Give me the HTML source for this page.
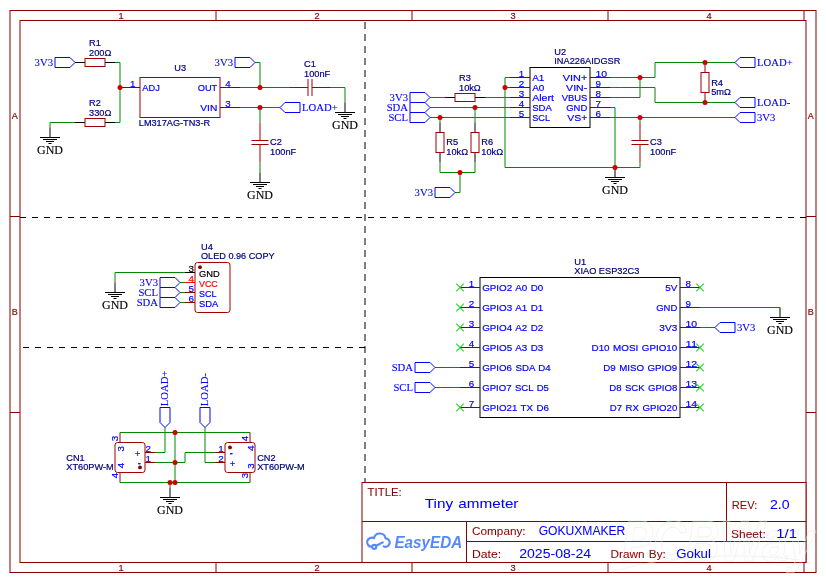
<!DOCTYPE html>
<html><head><meta charset="utf-8"><title>Tiny ammeter</title>
<style>html,body{margin:0;padding:0;background:#fff;overflow:hidden}svg{display:block;will-change:transform;transform:translateZ(0)}text{white-space:pre}</style>
</head><body>
<svg width="826" height="583" viewBox="0 0 826 583">
<rect x="0" y="0" width="826" height="583" fill="#fff"/>
<rect x="10" y="10.5" width="806" height="562" fill="none" stroke="#880000" stroke-width="1"/>
<rect x="20" y="20.5" width="786" height="542" fill="none" stroke="#880000" stroke-width="1"/>
<line x1="216" y1="10.5" x2="216" y2="20.5" stroke="#880000" stroke-width="1" />
<line x1="216" y1="562.5" x2="216" y2="572.5" stroke="#880000" stroke-width="1" />
<line x1="412" y1="10.5" x2="412" y2="20.5" stroke="#880000" stroke-width="1" />
<line x1="412" y1="562.5" x2="412" y2="572.5" stroke="#880000" stroke-width="1" />
<line x1="608" y1="10.5" x2="608" y2="20.5" stroke="#880000" stroke-width="1" />
<line x1="608" y1="562.5" x2="608" y2="572.5" stroke="#880000" stroke-width="1" />
<line x1="804" y1="10.5" x2="804" y2="20.5" stroke="#880000" stroke-width="1" />
<line x1="804" y1="562.5" x2="804" y2="572.5" stroke="#880000" stroke-width="1" />
<line x1="10" y1="216.5" x2="20" y2="216.5" stroke="#880000" stroke-width="1" />
<line x1="806" y1="216.5" x2="816" y2="216.5" stroke="#880000" stroke-width="1" />
<line x1="10" y1="412.5" x2="20" y2="412.5" stroke="#880000" stroke-width="1" />
<line x1="806" y1="412.5" x2="816" y2="412.5" stroke="#880000" stroke-width="1" />
<text x="118.4" y="18.7" fill="#880000" stroke="#880000" stroke-width="0.2" font-size="9.2" font-family='"Liberation Sans", sans-serif' >1</text>
<text x="118.4" y="570.7" fill="#880000" stroke="#880000" stroke-width="0.2" font-size="9.2" font-family='"Liberation Sans", sans-serif' >1</text>
<text x="314.4" y="18.7" fill="#880000" stroke="#880000" stroke-width="0.2" font-size="9.2" font-family='"Liberation Sans", sans-serif' >2</text>
<text x="314.4" y="570.7" fill="#880000" stroke="#880000" stroke-width="0.2" font-size="9.2" font-family='"Liberation Sans", sans-serif' >2</text>
<text x="510.4" y="18.7" fill="#880000" stroke="#880000" stroke-width="0.2" font-size="9.2" font-family='"Liberation Sans", sans-serif' >3</text>
<text x="510.4" y="570.7" fill="#880000" stroke="#880000" stroke-width="0.2" font-size="9.2" font-family='"Liberation Sans", sans-serif' >3</text>
<text x="706.4" y="18.7" fill="#880000" stroke="#880000" stroke-width="0.2" font-size="9.2" font-family='"Liberation Sans", sans-serif' >4</text>
<text x="706.4" y="570.7" fill="#880000" stroke="#880000" stroke-width="0.2" font-size="9.2" font-family='"Liberation Sans", sans-serif' >4</text>
<text x="11.8" y="118.7" fill="#880000" stroke="#880000" stroke-width="0.2" font-size="9" font-family='"Liberation Sans", sans-serif' >A</text>
<text x="807.8" y="118.7" fill="#880000" stroke="#880000" stroke-width="0.2" font-size="9" font-family='"Liberation Sans", sans-serif' >A</text>
<text x="11.8" y="314.7" fill="#880000" stroke="#880000" stroke-width="0.2" font-size="9" font-family='"Liberation Sans", sans-serif' >B</text>
<text x="807.8" y="314.7" fill="#880000" stroke="#880000" stroke-width="0.2" font-size="9" font-family='"Liberation Sans", sans-serif' >B</text>
<line x1="365" y1="22" x2="365" y2="484" stroke="#000000" stroke-width="1" stroke-dasharray="7 5"/>
<line x1="20" y1="217.5" x2="806" y2="217.5" stroke="#000000" stroke-width="1" stroke-dasharray="6 6"/>
<line x1="23" y1="347.5" x2="365" y2="347.5" stroke="#000000" stroke-width="1" stroke-dasharray="6 6"/>
<polyline points="115,62.5 120,62.5 120,122.5 115,122.5" fill="none" stroke="#008800" stroke-width="1" stroke-linejoin="miter"/>
<polyline points="75,122.5 50,122.5 50,127.5" fill="none" stroke="#008800" stroke-width="1" stroke-linejoin="miter"/>
<polyline points="255,62.5 260,62.5 260,87.5" fill="none" stroke="#008800" stroke-width="1" stroke-linejoin="miter"/>
<polyline points="240,87.5 290,87.5" fill="none" stroke="#008800" stroke-width="1" stroke-linejoin="miter"/>
<polyline points="330,87.5 345,87.5 345,102.5" fill="none" stroke="#008800" stroke-width="1" stroke-linejoin="miter"/>
<polyline points="240,107.5 280,107.5" fill="none" stroke="#008800" stroke-width="1" stroke-linejoin="miter"/>
<polyline points="260,107.5 260,122.5" fill="none" stroke="#008800" stroke-width="1" stroke-linejoin="miter"/>
<polyline points="260,162.5 260,172.5" fill="none" stroke="#008800" stroke-width="1" stroke-linejoin="miter"/>
<polygon points="55,57.5 70,57.5 75,62.5 70,67.5 55,67.5" fill="none" stroke="#0000FF" stroke-width="1" />
<text x="53" y="65.7" fill="#0000FF" stroke="#0000FF" stroke-width="0.12" font-size="11.31" font-family='"Liberation Serif", serif' text-anchor="end" textLength="18.38" lengthAdjust="spacingAndGlyphs" >3V3</text>
<line x1="75" y1="62.5" x2="85" y2="62.5" stroke="#000000" stroke-width="1" />
<line x1="105" y1="62.5" x2="115" y2="62.5" stroke="#000000" stroke-width="1" />
<rect x="85" y="58.5" width="20" height="8" fill="none" stroke="#A00000" stroke-width="1"/>
<text x="89" y="45.7" fill="#000080" stroke="#000080" stroke-width="0.2" font-size="9.23" font-family='"Liberation Sans", sans-serif' >R1</text>
<text x="89" y="55.7" fill="#000080" stroke="#000080" stroke-width="0.2" font-size="9.23" font-family='"Liberation Sans", sans-serif' >200Ω</text>
<line x1="75" y1="122.5" x2="85" y2="122.5" stroke="#000000" stroke-width="1" />
<line x1="105" y1="122.5" x2="115" y2="122.5" stroke="#000000" stroke-width="1" />
<rect x="85" y="118.5" width="20" height="8" fill="none" stroke="#A00000" stroke-width="1"/>
<text x="89" y="105.7" fill="#000080" stroke="#000080" stroke-width="0.2" font-size="9.23" font-family='"Liberation Sans", sans-serif' >R2</text>
<text x="89" y="115.7" fill="#000080" stroke="#000080" stroke-width="0.2" font-size="9.23" font-family='"Liberation Sans", sans-serif' >330Ω</text>
<line x1="50" y1="127.5" x2="50" y2="137.5" stroke="#000000" stroke-width="1" />
<line x1="40" y1="137.5" x2="60" y2="137.5" stroke="#000000" stroke-width="1" />
<line x1="43" y1="139.5" x2="57" y2="139.5" stroke="#000000" stroke-width="1" />
<line x1="46" y1="141.5" x2="54" y2="141.5" stroke="#000000" stroke-width="1" />
<line x1="48.5" y1="143.5" x2="51.5" y2="143.5" stroke="#000000" stroke-width="1" />
<text x="50" y="153.8" fill="#000000" stroke="#000000" stroke-width="0.15" font-size="13" font-family='"Liberation Serif", serif' text-anchor="middle" textLength="26.00" lengthAdjust="spacingAndGlyphs" >GND</text>
<rect x="140" y="77.5" width="80" height="40" fill="none" stroke="#A00000" stroke-width="1"/>
<line x1="120" y1="87.5" x2="140" y2="87.5" stroke="#880000" stroke-width="1" />
<line x1="220" y1="87.5" x2="240" y2="87.5" stroke="#880000" stroke-width="1" />
<line x1="220" y1="107.5" x2="240" y2="107.5" stroke="#880000" stroke-width="1" />
<text x="130" y="86.7" fill="#0000FF" stroke="#0000FF" stroke-width="0.2" font-size="9.81" font-family='"Liberation Sans", sans-serif' >1</text>
<text x="225.3" y="86.7" fill="#0000FF" stroke="#0000FF" stroke-width="0.2" font-size="9.81" font-family='"Liberation Sans", sans-serif' >4</text>
<text x="225.3" y="106.7" fill="#0000FF" stroke="#0000FF" stroke-width="0.2" font-size="9.81" font-family='"Liberation Sans", sans-serif' >3</text>
<text x="142.3" y="90.6" fill="#0000FF" stroke="#0000FF" stroke-width="0.2" font-size="9.81" font-family='"Liberation Sans", sans-serif' textLength="17.53" lengthAdjust="spacingAndGlyphs"  word-spacing="0.8">ADJ</text>
<text x="217.3" y="90.7" fill="#0000FF" stroke="#0000FF" stroke-width="0.2" font-size="9.81" font-family='"Liberation Sans", sans-serif' text-anchor="end" textLength="19.60" lengthAdjust="spacingAndGlyphs"  word-spacing="0.8">OUT</text>
<text x="217.3" y="110.7" fill="#0000FF" stroke="#0000FF" stroke-width="0.2" font-size="9.81" font-family='"Liberation Sans", sans-serif' text-anchor="end" textLength="17.01" lengthAdjust="spacingAndGlyphs"  word-spacing="0.8">VIN</text>
<text x="174.3" y="70.7" fill="#000080" stroke="#000080" stroke-width="0.2" font-size="9.23" font-family='"Liberation Sans", sans-serif' >U3</text>
<text x="138.8" y="125.5" fill="#000080" stroke="#000080" stroke-width="0.2" font-size="9" font-family='"Liberation Sans", sans-serif' textLength="71.30" lengthAdjust="spacingAndGlyphs" >LM317AG-TN3-R</text>
<polygon points="235,57.5 250,57.5 255,62.5 250,67.5 235,67.5" fill="none" stroke="#0000FF" stroke-width="1" />
<text x="233" y="65.7" fill="#0000FF" stroke="#0000FF" stroke-width="0.12" font-size="11.31" font-family='"Liberation Serif", serif' text-anchor="end" textLength="18.38" lengthAdjust="spacingAndGlyphs" >3V3</text>
<line x1="290" y1="87.5" x2="308" y2="87.5" stroke="#A00000" stroke-width="1" />
<line x1="312" y1="87.5" x2="330" y2="87.5" stroke="#A00000" stroke-width="1" />
<line x1="308" y1="79.0" x2="308" y2="96.0" stroke="#A00000" stroke-width="1" />
<line x1="312" y1="79.0" x2="312" y2="96.0" stroke="#A00000" stroke-width="1" />
<text x="304" y="66.7" fill="#000080" stroke="#000080" stroke-width="0.2" font-size="9.23" font-family='"Liberation Sans", sans-serif' >C1</text>
<text x="304" y="76.9" fill="#000080" stroke="#000080" stroke-width="0.2" font-size="9.23" font-family='"Liberation Sans", sans-serif' >100nF</text>
<line x1="345" y1="102.5" x2="345" y2="112.5" stroke="#000000" stroke-width="1" />
<line x1="335" y1="112.5" x2="355" y2="112.5" stroke="#000000" stroke-width="1" />
<line x1="338" y1="114.5" x2="352" y2="114.5" stroke="#000000" stroke-width="1" />
<line x1="341" y1="116.5" x2="349" y2="116.5" stroke="#000000" stroke-width="1" />
<line x1="343.5" y1="118.5" x2="346.5" y2="118.5" stroke="#000000" stroke-width="1" />
<text x="345" y="128.8" fill="#000000" stroke="#000000" stroke-width="0.15" font-size="13" font-family='"Liberation Serif", serif' text-anchor="middle" textLength="26.00" lengthAdjust="spacingAndGlyphs" >GND</text>
<polygon points="300,102.5 285,102.5 280,107.5 285,112.5 300,112.5" fill="none" stroke="#0000FF" stroke-width="1" />
<text x="302" y="110.7" fill="#0000FF" stroke="#0000FF" stroke-width="0.12" font-size="11.31" font-family='"Liberation Serif", serif' textLength="35.65" lengthAdjust="spacingAndGlyphs" >LOAD+</text>
<line x1="260" y1="122.5" x2="260" y2="140.5" stroke="#A00000" stroke-width="1" />
<line x1="260" y1="144.5" x2="260" y2="162.5" stroke="#A00000" stroke-width="1" />
<line x1="251.5" y1="140.5" x2="268.5" y2="140.5" stroke="#A00000" stroke-width="1" />
<line x1="251.5" y1="144.5" x2="268.5" y2="144.5" stroke="#A00000" stroke-width="1" />
<text x="270" y="145.4" fill="#000080" stroke="#000080" stroke-width="0.2" font-size="9.23" font-family='"Liberation Sans", sans-serif' >C2</text>
<text x="270" y="154.6" fill="#000080" stroke="#000080" stroke-width="0.2" font-size="9.23" font-family='"Liberation Sans", sans-serif' >100nF</text>
<line x1="260" y1="172.5" x2="260" y2="182.5" stroke="#000000" stroke-width="1" />
<line x1="250" y1="182.5" x2="270" y2="182.5" stroke="#000000" stroke-width="1" />
<line x1="253" y1="184.5" x2="267" y2="184.5" stroke="#000000" stroke-width="1" />
<line x1="256" y1="186.5" x2="264" y2="186.5" stroke="#000000" stroke-width="1" />
<line x1="258.5" y1="188.5" x2="261.5" y2="188.5" stroke="#000000" stroke-width="1" />
<text x="260" y="198.8" fill="#000000" stroke="#000000" stroke-width="0.15" font-size="13" font-family='"Liberation Serif", serif' text-anchor="middle" textLength="26.00" lengthAdjust="spacingAndGlyphs" >GND</text>
<circle cx="120" cy="87.5" r="2.5" fill="#CC0000"/>
<circle cx="260" cy="87.5" r="2.5" fill="#CC0000"/>
<circle cx="260" cy="107.5" r="2.5" fill="#CC0000"/>
<polyline points="430,97.5 445,97.5" fill="none" stroke="#008800" stroke-width="1" stroke-linejoin="miter"/>
<polyline points="485,97.5 510,97.5" fill="none" stroke="#008800" stroke-width="1" stroke-linejoin="miter"/>
<polyline points="430,107.5 510,107.5" fill="none" stroke="#008800" stroke-width="1" stroke-linejoin="miter"/>
<polyline points="430,117.5 510,117.5" fill="none" stroke="#008800" stroke-width="1" stroke-linejoin="miter"/>
<polyline points="440,117.5 440,122.5" fill="none" stroke="#008800" stroke-width="1" stroke-linejoin="miter"/>
<polyline points="475,107.5 475,122.5" fill="none" stroke="#008800" stroke-width="1" stroke-linejoin="miter"/>
<polyline points="440,162.5 440,172.5 475,172.5 475,162.5" fill="none" stroke="#008800" stroke-width="1" stroke-linejoin="miter"/>
<polyline points="460,172.5 460,192.5 455,192.5" fill="none" stroke="#008800" stroke-width="1" stroke-linejoin="miter"/>
<polyline points="510,77.5 505,77.5 505,167.5 640,167.5 640,162.5" fill="none" stroke="#008800" stroke-width="1" stroke-linejoin="miter"/>
<polyline points="505,87.5 510,87.5" fill="none" stroke="#008800" stroke-width="1" stroke-linejoin="miter"/>
<polyline points="610,77.5 655,77.5 655,62.5 735,62.5" fill="none" stroke="#008800" stroke-width="1" stroke-linejoin="miter"/>
<polyline points="610,87.5 655,87.5 655,102.5 735,102.5" fill="none" stroke="#008800" stroke-width="1" stroke-linejoin="miter"/>
<polyline points="610,97.5 640,97.5 640,77.5" fill="none" stroke="#008800" stroke-width="1" stroke-linejoin="miter"/>
<polyline points="610,107.5 615,107.5 615,167.5" fill="none" stroke="#008800" stroke-width="1" stroke-linejoin="miter"/>
<polyline points="610,117.5 735,117.5" fill="none" stroke="#008800" stroke-width="1" stroke-linejoin="miter"/>
<polyline points="640,117.5 640,122.5" fill="none" stroke="#008800" stroke-width="1" stroke-linejoin="miter"/>
<polygon points="410,92.5 425,92.5 430,97.5 425,102.5 410,102.5" fill="none" stroke="#0000FF" stroke-width="1" />
<text x="408" y="100.7" fill="#0000FF" stroke="#0000FF" stroke-width="0.12" font-size="11.31" font-family='"Liberation Serif", serif' text-anchor="end" textLength="18.38" lengthAdjust="spacingAndGlyphs" >3V3</text>
<polygon points="410,102.5 425,102.5 430,107.5 425,112.5 410,112.5" fill="none" stroke="#0000FF" stroke-width="1" />
<text x="408" y="110.7" fill="#0000FF" stroke="#0000FF" stroke-width="0.12" font-size="11.31" font-family='"Liberation Serif", serif' text-anchor="end" textLength="21.35" lengthAdjust="spacingAndGlyphs" >SDA</text>
<polygon points="410,112.5 425,112.5 430,117.5 425,122.5 410,122.5" fill="none" stroke="#0000FF" stroke-width="1" />
<text x="408" y="120.7" fill="#0000FF" stroke="#0000FF" stroke-width="0.12" font-size="11.31" font-family='"Liberation Serif", serif' text-anchor="end" textLength="19.57" lengthAdjust="spacingAndGlyphs" >SCL</text>
<line x1="445" y1="97.5" x2="455" y2="97.5" stroke="#000000" stroke-width="1" />
<line x1="475" y1="97.5" x2="485" y2="97.5" stroke="#000000" stroke-width="1" />
<rect x="455" y="93.5" width="20" height="8" fill="none" stroke="#A00000" stroke-width="1"/>
<text x="459" y="80.7" fill="#000080" stroke="#000080" stroke-width="0.2" font-size="9.23" font-family='"Liberation Sans", sans-serif' >R3</text>
<text x="459" y="90.7" fill="#000080" stroke="#000080" stroke-width="0.2" font-size="9.23" font-family='"Liberation Sans", sans-serif' >10kΩ</text>
<line x1="440" y1="122.5" x2="440" y2="132.5" stroke="#000000" stroke-width="1" />
<line x1="440" y1="152.5" x2="440" y2="162.5" stroke="#000000" stroke-width="1" />
<rect x="436" y="132.5" width="8" height="20" fill="none" stroke="#A00000" stroke-width="1"/>
<text x="446.3" y="145.4" fill="#000080" stroke="#000080" stroke-width="0.2" font-size="9.23" font-family='"Liberation Sans", sans-serif' >R5</text>
<text x="446.3" y="154.5" fill="#000080" stroke="#000080" stroke-width="0.2" font-size="9.23" font-family='"Liberation Sans", sans-serif' >10kΩ</text>
<line x1="475" y1="122.5" x2="475" y2="132.5" stroke="#000000" stroke-width="1" />
<line x1="475" y1="152.5" x2="475" y2="162.5" stroke="#000000" stroke-width="1" />
<rect x="471" y="132.5" width="8" height="20" fill="none" stroke="#A00000" stroke-width="1"/>
<text x="481.3" y="145.4" fill="#000080" stroke="#000080" stroke-width="0.2" font-size="9.23" font-family='"Liberation Sans", sans-serif' >R6</text>
<text x="481.3" y="154.5" fill="#000080" stroke="#000080" stroke-width="0.2" font-size="9.23" font-family='"Liberation Sans", sans-serif' >10kΩ</text>
<polygon points="435,187.5 450,187.5 455,192.5 450,197.5 435,197.5" fill="none" stroke="#0000FF" stroke-width="1" />
<text x="433" y="195.7" fill="#0000FF" stroke="#0000FF" stroke-width="0.12" font-size="11.31" font-family='"Liberation Serif", serif' text-anchor="end" textLength="18.38" lengthAdjust="spacingAndGlyphs" >3V3</text>
<rect x="530" y="67.5" width="60" height="60" fill="none" stroke="#000000" stroke-width="1"/>
<line x1="510" y1="77.5" x2="530" y2="77.5" stroke="#880000" stroke-width="1" />
<line x1="590" y1="77.5" x2="610" y2="77.5" stroke="#880000" stroke-width="1" />
<text x="524.3" y="76.7" fill="#0000FF" stroke="#0000FF" stroke-width="0.2" font-size="9.81" font-family='"Liberation Sans", sans-serif' text-anchor="end" >1</text>
<text x="595.5" y="76.7" fill="#0000FF" stroke="#0000FF" stroke-width="0.2" font-size="9.81" font-family='"Liberation Sans", sans-serif' textLength="11.68" lengthAdjust="spacingAndGlyphs"  word-spacing="0.8">10</text>
<text x="532.2" y="80.5" fill="#0000FF" stroke="#0000FF" stroke-width="0.2" font-size="9.81" font-family='"Liberation Sans", sans-serif' textLength="12.12" lengthAdjust="spacingAndGlyphs"  word-spacing="0.8">A1</text>
<text x="587.3" y="80.5" fill="#0000FF" stroke="#0000FF" stroke-width="0.2" font-size="9.81" font-family='"Liberation Sans", sans-serif' text-anchor="end" textLength="24.52" lengthAdjust="spacingAndGlyphs"  word-spacing="0.8">VIN+</text>
<line x1="510" y1="87.5" x2="530" y2="87.5" stroke="#880000" stroke-width="1" />
<line x1="590" y1="87.5" x2="610" y2="87.5" stroke="#880000" stroke-width="1" />
<text x="524.3" y="86.7" fill="#0000FF" stroke="#0000FF" stroke-width="0.2" font-size="9.81" font-family='"Liberation Sans", sans-serif' text-anchor="end" >2</text>
<text x="595.5" y="86.7" fill="#0000FF" stroke="#0000FF" stroke-width="0.2" font-size="9.81" font-family='"Liberation Sans", sans-serif' >9</text>
<text x="532.2" y="90.5" fill="#0000FF" stroke="#0000FF" stroke-width="0.2" font-size="9.81" font-family='"Liberation Sans", sans-serif' textLength="12.12" lengthAdjust="spacingAndGlyphs"  word-spacing="0.8">A0</text>
<text x="587.3" y="90.5" fill="#0000FF" stroke="#0000FF" stroke-width="0.2" font-size="9.81" font-family='"Liberation Sans", sans-serif' text-anchor="end" textLength="21.18" lengthAdjust="spacingAndGlyphs"  word-spacing="0.8">VIN-</text>
<line x1="510" y1="97.5" x2="530" y2="97.5" stroke="#880000" stroke-width="1" />
<line x1="590" y1="97.5" x2="610" y2="97.5" stroke="#880000" stroke-width="1" />
<text x="524.3" y="96.7" fill="#0000FF" stroke="#0000FF" stroke-width="0.2" font-size="9.81" font-family='"Liberation Sans", sans-serif' text-anchor="end" >3</text>
<text x="595.5" y="96.7" fill="#0000FF" stroke="#0000FF" stroke-width="0.2" font-size="9.81" font-family='"Liberation Sans", sans-serif' >8</text>
<text x="532.2" y="100.5" fill="#0000FF" stroke="#0000FF" stroke-width="0.2" font-size="9.81" font-family='"Liberation Sans", sans-serif' textLength="21.80" lengthAdjust="spacingAndGlyphs"  word-spacing="0.8">Alert</text>
<text x="587.3" y="100.5" fill="#0000FF" stroke="#0000FF" stroke-width="0.2" font-size="9.81" font-family='"Liberation Sans", sans-serif' text-anchor="end" textLength="25.58" lengthAdjust="spacingAndGlyphs"  word-spacing="0.8">VBUS</text>
<line x1="510" y1="107.5" x2="530" y2="107.5" stroke="#880000" stroke-width="1" />
<line x1="590" y1="107.5" x2="610" y2="107.5" stroke="#880000" stroke-width="1" />
<text x="524.3" y="106.7" fill="#0000FF" stroke="#0000FF" stroke-width="0.2" font-size="9.81" font-family='"Liberation Sans", sans-serif' text-anchor="end" >4</text>
<text x="595.5" y="106.7" fill="#0000FF" stroke="#0000FF" stroke-width="0.2" font-size="9.81" font-family='"Liberation Sans", sans-serif' >7</text>
<text x="532.2" y="110.5" fill="#0000FF" stroke="#0000FF" stroke-width="0.2" font-size="9.81" font-family='"Liberation Sans", sans-serif' textLength="19.64" lengthAdjust="spacingAndGlyphs"  word-spacing="0.8">SDA</text>
<text x="587.3" y="110.5" fill="#0000FF" stroke="#0000FF" stroke-width="0.2" font-size="9.81" font-family='"Liberation Sans", sans-serif' text-anchor="end" textLength="21.06" lengthAdjust="spacingAndGlyphs"  word-spacing="0.8">GND</text>
<line x1="510" y1="117.5" x2="530" y2="117.5" stroke="#880000" stroke-width="1" />
<line x1="590" y1="117.5" x2="610" y2="117.5" stroke="#880000" stroke-width="1" />
<text x="524.3" y="116.7" fill="#0000FF" stroke="#0000FF" stroke-width="0.2" font-size="9.81" font-family='"Liberation Sans", sans-serif' text-anchor="end" >5</text>
<text x="595.5" y="116.7" fill="#0000FF" stroke="#0000FF" stroke-width="0.2" font-size="9.81" font-family='"Liberation Sans", sans-serif' >6</text>
<text x="532.2" y="120.5" fill="#0000FF" stroke="#0000FF" stroke-width="0.2" font-size="9.81" font-family='"Liberation Sans", sans-serif' textLength="17.80" lengthAdjust="spacingAndGlyphs"  word-spacing="0.8">SCL</text>
<text x="587.3" y="120.5" fill="#0000FF" stroke="#0000FF" stroke-width="0.2" font-size="9.81" font-family='"Liberation Sans", sans-serif' text-anchor="end" textLength="20.07" lengthAdjust="spacingAndGlyphs"  word-spacing="0.8">VS+</text>
<text x="554.3" y="54.7" fill="#000080" stroke="#000080" stroke-width="0.2" font-size="9.23" font-family='"Liberation Sans", sans-serif' >U2</text>
<text x="554.3" y="63.7" fill="#000080" stroke="#000080" stroke-width="0.2" font-size="9.23" font-family='"Liberation Sans", sans-serif' >INA226AIDGSR</text>
<line x1="705" y1="62.5" x2="705" y2="72.5" stroke="#A00000" stroke-width="1" />
<line x1="705" y1="92.5" x2="705" y2="102.5" stroke="#A00000" stroke-width="1" />
<rect x="701" y="72.5" width="8" height="20" fill="none" stroke="#A00000" stroke-width="1"/>
<text x="711.2" y="85.7" fill="#000080" stroke="#000080" stroke-width="0.2" font-size="9.23" font-family='"Liberation Sans", sans-serif' >R4</text>
<text x="711.2" y="94.7" fill="#000080" stroke="#000080" stroke-width="0.2" font-size="9.23" font-family='"Liberation Sans", sans-serif' >5mΩ</text>
<polygon points="755,57.5 740,57.5 735,62.5 740,67.5 755,67.5" fill="none" stroke="#0000FF" stroke-width="1" />
<text x="757" y="65.7" fill="#0000FF" stroke="#0000FF" stroke-width="0.12" font-size="11.31" font-family='"Liberation Serif", serif' textLength="35.65" lengthAdjust="spacingAndGlyphs" >LOAD+</text>
<polygon points="755,97.5 740,97.5 735,102.5 740,107.5 755,107.5" fill="none" stroke="#0000FF" stroke-width="1" />
<text x="757" y="105.7" fill="#0000FF" stroke="#0000FF" stroke-width="0.12" font-size="11.31" font-family='"Liberation Serif", serif' textLength="33.19" lengthAdjust="spacingAndGlyphs" >LOAD-</text>
<polygon points="755,112.5 740,112.5 735,117.5 740,122.5 755,122.5" fill="none" stroke="#0000FF" stroke-width="1" />
<text x="757" y="120.7" fill="#0000FF" stroke="#0000FF" stroke-width="0.12" font-size="11.31" font-family='"Liberation Serif", serif' textLength="18.38" lengthAdjust="spacingAndGlyphs" >3V3</text>
<line x1="640" y1="122.5" x2="640" y2="140.5" stroke="#A00000" stroke-width="1" />
<line x1="640" y1="144.5" x2="640" y2="162.5" stroke="#A00000" stroke-width="1" />
<line x1="631.5" y1="140.5" x2="648.5" y2="140.5" stroke="#A00000" stroke-width="1" />
<line x1="631.5" y1="144.5" x2="648.5" y2="144.5" stroke="#A00000" stroke-width="1" />
<text x="650" y="145.4" fill="#000080" stroke="#000080" stroke-width="0.2" font-size="9.23" font-family='"Liberation Sans", sans-serif' >C3</text>
<text x="650" y="154.6" fill="#000080" stroke="#000080" stroke-width="0.2" font-size="9.23" font-family='"Liberation Sans", sans-serif' >100nF</text>
<line x1="615" y1="167.5" x2="615" y2="177.5" stroke="#000000" stroke-width="1" />
<line x1="605" y1="177.5" x2="625" y2="177.5" stroke="#000000" stroke-width="1" />
<line x1="608" y1="179.5" x2="622" y2="179.5" stroke="#000000" stroke-width="1" />
<line x1="611" y1="181.5" x2="619" y2="181.5" stroke="#000000" stroke-width="1" />
<line x1="613.5" y1="183.5" x2="616.5" y2="183.5" stroke="#000000" stroke-width="1" />
<text x="615" y="193.8" fill="#000000" stroke="#000000" stroke-width="0.15" font-size="13" font-family='"Liberation Serif", serif' text-anchor="middle" textLength="26.00" lengthAdjust="spacingAndGlyphs" >GND</text>
<circle cx="505" cy="87.5" r="2.5" fill="#CC0000"/>
<circle cx="475" cy="107.5" r="2.5" fill="#CC0000"/>
<circle cx="440" cy="117.5" r="2.5" fill="#CC0000"/>
<circle cx="460" cy="172.5" r="2.5" fill="#CC0000"/>
<circle cx="640" cy="77.5" r="2.5" fill="#CC0000"/>
<circle cx="705" cy="62.5" r="2.5" fill="#CC0000"/>
<circle cx="705" cy="102.5" r="2.5" fill="#CC0000"/>
<circle cx="640" cy="117.5" r="2.5" fill="#CC0000"/>
<circle cx="615" cy="167.5" r="2.5" fill="#CC0000"/>
<polyline points="185,272.5 115,272.5 115,282.5" fill="none" stroke="#008800" stroke-width="1" stroke-linejoin="miter"/>
<polyline points="180,282.5 185,282.5" fill="none" stroke="#008800" stroke-width="1" stroke-linejoin="miter"/>
<polyline points="180,292.5 185,292.5" fill="none" stroke="#008800" stroke-width="1" stroke-linejoin="miter"/>
<polyline points="180,302.5 185,302.5" fill="none" stroke="#008800" stroke-width="1" stroke-linejoin="miter"/>
<line x1="115" y1="282.5" x2="115" y2="292.5" stroke="#000000" stroke-width="1" />
<line x1="105" y1="292.5" x2="125" y2="292.5" stroke="#000000" stroke-width="1" />
<line x1="108" y1="294.5" x2="122" y2="294.5" stroke="#000000" stroke-width="1" />
<line x1="111" y1="296.5" x2="119" y2="296.5" stroke="#000000" stroke-width="1" />
<line x1="113.5" y1="298.5" x2="116.5" y2="298.5" stroke="#000000" stroke-width="1" />
<text x="115" y="308.8" fill="#000000" stroke="#000000" stroke-width="0.15" font-size="13" font-family='"Liberation Serif", serif' text-anchor="middle" textLength="26.00" lengthAdjust="spacingAndGlyphs" >GND</text>
<polygon points="160,277.5 175,277.5 180,282.5 175,287.5 160,287.5" fill="none" stroke="#0000FF" stroke-width="1" />
<text x="158" y="285.7" fill="#0000FF" stroke="#0000FF" stroke-width="0.12" font-size="11.31" font-family='"Liberation Serif", serif' text-anchor="end" textLength="18.38" lengthAdjust="spacingAndGlyphs" >3V3</text>
<polygon points="160,287.5 175,287.5 180,292.5 175,297.5 160,297.5" fill="none" stroke="#0000FF" stroke-width="1" />
<text x="158" y="295.7" fill="#0000FF" stroke="#0000FF" stroke-width="0.12" font-size="11.31" font-family='"Liberation Serif", serif' text-anchor="end" textLength="19.57" lengthAdjust="spacingAndGlyphs" >SCL</text>
<polygon points="160,297.5 175,297.5 180,302.5 175,307.5 160,307.5" fill="none" stroke="#0000FF" stroke-width="1" />
<text x="158" y="305.7" fill="#0000FF" stroke="#0000FF" stroke-width="0.12" font-size="11.31" font-family='"Liberation Serif", serif' text-anchor="end" textLength="21.35" lengthAdjust="spacingAndGlyphs" >SDA</text>
<rect x="195" y="262.5" width="35" height="50" rx="2.5" ry="2.5" fill="none" stroke="#A00000" stroke-width="1"/>
<circle cx="200" cy="267.2" r="1.9" fill="#880000"/>
<line x1="185" y1="272.5" x2="195" y2="272.5" stroke="#000000" stroke-width="1" />
<text x="194" y="271.6" fill="#000000" stroke="#000000" stroke-width="0.2" font-size="9.81" font-family='"Liberation Sans", sans-serif' text-anchor="end" >3</text>
<text x="199" y="276.7" fill="#000000" stroke="#000000" stroke-width="0.2" font-size="9" font-family='"Liberation Sans", sans-serif' textLength="20.65" lengthAdjust="spacingAndGlyphs" >GND</text>
<line x1="185" y1="282.5" x2="195" y2="282.5" stroke="#FF0000" stroke-width="1" />
<text x="194" y="281.6" fill="#FF0000" stroke="#FF0000" stroke-width="0.2" font-size="9.81" font-family='"Liberation Sans", sans-serif' text-anchor="end" >4</text>
<text x="199" y="286.7" fill="#FF0000" stroke="#FF0000" stroke-width="0.2" font-size="9" font-family='"Liberation Sans", sans-serif' textLength="18.72" lengthAdjust="spacingAndGlyphs" >VCC</text>
<line x1="185" y1="292.5" x2="195" y2="292.5" stroke="#880000" stroke-width="1" />
<text x="194" y="291.6" fill="#0000FF" stroke="#0000FF" stroke-width="0.2" font-size="9.81" font-family='"Liberation Sans", sans-serif' text-anchor="end" >5</text>
<text x="199" y="296.7" fill="#0000FF" stroke="#0000FF" stroke-width="0.2" font-size="9" font-family='"Liberation Sans", sans-serif' textLength="17.45" lengthAdjust="spacingAndGlyphs" >SCL</text>
<line x1="185" y1="302.5" x2="195" y2="302.5" stroke="#880000" stroke-width="1" />
<text x="194" y="301.6" fill="#0000FF" stroke="#0000FF" stroke-width="0.2" font-size="9.81" font-family='"Liberation Sans", sans-serif' text-anchor="end" >6</text>
<text x="199" y="306.7" fill="#0000FF" stroke="#0000FF" stroke-width="0.2" font-size="9" font-family='"Liberation Sans", sans-serif' textLength="19.25" lengthAdjust="spacingAndGlyphs" >SDA</text>
<text x="201" y="249.6" fill="#000080" stroke="#000080" stroke-width="0.2" font-size="9.23" font-family='"Liberation Sans", sans-serif' >U4</text>
<text x="201" y="258.7" fill="#000080" stroke="#000080" stroke-width="0.2" font-size="9" font-family='"Liberation Sans", sans-serif' textLength="73.60" lengthAdjust="spacingAndGlyphs" >OLED 0.96 COPY</text>
<polyline points="120,432.5 250,432.5" fill="none" stroke="#008800" stroke-width="1" stroke-linejoin="miter"/>
<polyline points="120,482.5 250,482.5" fill="none" stroke="#008800" stroke-width="1" stroke-linejoin="miter"/>
<polyline points="175,432.5 175,482.5" fill="none" stroke="#008800" stroke-width="1" stroke-linejoin="miter"/>
<polyline points="155,452.5 165,452.5 165,427.5" fill="none" stroke="#008800" stroke-width="1" stroke-linejoin="miter"/>
<polyline points="155,462.5 185,462.5 185,452.5 215,452.5" fill="none" stroke="#008800" stroke-width="1" stroke-linejoin="miter"/>
<polyline points="215,462.5 205,462.5 205,427.5" fill="none" stroke="#008800" stroke-width="1" stroke-linejoin="miter"/>
<polyline points="170,482.5 170,487.5" fill="none" stroke="#008800" stroke-width="1" stroke-linejoin="miter"/>
<polygon points="160,407.5 160,422.5 165,427.5 170,422.5 170,407.5" fill="none" stroke="#0000FF" stroke-width="1" />
<g transform="translate(167.9,406.3) rotate(-90)">
<text x="0" y="0" fill="#0000FF" stroke="#0000FF" stroke-width="0.12" font-size="11.31" font-family='"Liberation Serif", serif' textLength="35.65" lengthAdjust="spacingAndGlyphs" >LOAD+</text>
</g>
<polygon points="200,407.5 200,422.5 205,427.5 210,422.5 210,407.5" fill="none" stroke="#0000FF" stroke-width="1" />
<g transform="translate(207.9,406.3) rotate(-90)">
<text x="0" y="0" fill="#0000FF" stroke="#0000FF" stroke-width="0.12" font-size="11.31" font-family='"Liberation Serif", serif' textLength="33.19" lengthAdjust="spacingAndGlyphs" >LOAD-</text>
</g>
<line x1="170" y1="487.5" x2="170" y2="497.5" stroke="#000000" stroke-width="1" />
<line x1="160" y1="497.5" x2="180" y2="497.5" stroke="#000000" stroke-width="1" />
<line x1="163" y1="499.5" x2="177" y2="499.5" stroke="#000000" stroke-width="1" />
<line x1="166" y1="501.5" x2="174" y2="501.5" stroke="#000000" stroke-width="1" />
<line x1="168.5" y1="503.5" x2="171.5" y2="503.5" stroke="#000000" stroke-width="1" />
<text x="170" y="513.8" fill="#000000" stroke="#000000" stroke-width="0.15" font-size="13" font-family='"Liberation Serif", serif' text-anchor="middle" textLength="26.00" lengthAdjust="spacingAndGlyphs" >GND</text>
<rect x="115" y="442.5" width="30" height="30" rx="2.5" ry="2.5" fill="none" stroke="#A00000" stroke-width="1"/>
<line x1="120" y1="432.5" x2="120" y2="442.5" stroke="#A00000" stroke-width="1" />
<line x1="120" y1="472.5" x2="120" y2="482.5" stroke="#A00000" stroke-width="1" />
<line x1="145" y1="452.5" x2="155" y2="452.5" stroke="#880000" stroke-width="1" />
<line x1="145" y1="462.5" x2="155" y2="462.5" stroke="#880000" stroke-width="1" />
<text x="145.6" y="451.5" fill="#0000FF" stroke="#0000FF" stroke-width="0.2" font-size="9.81" font-family='"Liberation Sans", sans-serif' >2</text>
<text x="145.6" y="461.8" fill="#0000FF" stroke="#0000FF" stroke-width="0.2" font-size="9.81" font-family='"Liberation Sans", sans-serif' >1</text>
<circle cx="140" cy="467.4" r="1.9" fill="#880000"/>
<text x="137.6" y="456.5" fill="#0000FF" stroke="#0000FF" stroke-width="0.2" font-size="9" font-family='"Liberation Sans", sans-serif' text-anchor="middle" >+</text>
<text x="139.3" y="465.5" fill="#0000FF" stroke="#0000FF" stroke-width="0.2" font-size="9" font-family='"Liberation Sans", sans-serif' text-anchor="middle" font-weight="bold" >-</text>
<g transform="translate(118.4,441.3) rotate(-90)">
<text x="0" y="0" fill="#0000FF" stroke="#0000FF" stroke-width="0.2" font-size="9.81" font-family='"Liberation Sans", sans-serif' >3</text>
</g>
<g transform="translate(118.4,478.2) rotate(-90)">
<text x="0" y="0" fill="#0000FF" stroke="#0000FF" stroke-width="0.2" font-size="9.81" font-family='"Liberation Sans", sans-serif' >4</text>
</g>
<g transform="translate(123.9,451.6) rotate(-90)">
<text x="0" y="0" fill="#0000FF" stroke="#0000FF" stroke-width="0.2" font-size="9.81" font-family='"Liberation Sans", sans-serif' >3</text>
</g>
<g transform="translate(123.9,468.2) rotate(-90)">
<text x="0" y="0" fill="#0000FF" stroke="#0000FF" stroke-width="0.2" font-size="9.81" font-family='"Liberation Sans", sans-serif' >4</text>
</g>
<text x="66.3" y="460.7" fill="#000080" stroke="#000080" stroke-width="0.2" font-size="9.23" font-family='"Liberation Sans", sans-serif' >CN1</text>
<text x="66.3" y="469.7" fill="#000080" stroke="#000080" stroke-width="0.2" font-size="9.23" font-family='"Liberation Sans", sans-serif' >XT60PW-M</text>
<rect x="225" y="442.5" width="30" height="30" rx="2.5" ry="2.5" fill="none" stroke="#A00000" stroke-width="1"/>
<line x1="250" y1="432.5" x2="250" y2="442.5" stroke="#A00000" stroke-width="1" />
<line x1="250" y1="472.5" x2="250" y2="482.5" stroke="#A00000" stroke-width="1" />
<line x1="215" y1="452.5" x2="225" y2="452.5" stroke="#880000" stroke-width="1" />
<line x1="215" y1="462.5" x2="225" y2="462.5" stroke="#880000" stroke-width="1" />
<text x="223.6" y="451.5" fill="#0000FF" stroke="#0000FF" stroke-width="0.2" font-size="9.81" font-family='"Liberation Sans", sans-serif' text-anchor="end" >1</text>
<text x="223.6" y="461.8" fill="#0000FF" stroke="#0000FF" stroke-width="0.2" font-size="9.81" font-family='"Liberation Sans", sans-serif' text-anchor="end" >2</text>
<circle cx="230" cy="447.4" r="1.9" fill="#880000"/>
<text x="231.2" y="455.6" fill="#0000FF" stroke="#0000FF" stroke-width="0.2" font-size="9" font-family='"Liberation Sans", sans-serif' text-anchor="middle" font-weight="bold" >-</text>
<text x="232.6" y="466.5" fill="#0000FF" stroke="#0000FF" stroke-width="0.2" font-size="9" font-family='"Liberation Sans", sans-serif' text-anchor="middle" >+</text>
<g transform="translate(248.4,441.3) rotate(-90)">
<text x="0" y="0" fill="#0000FF" stroke="#0000FF" stroke-width="0.2" font-size="9.81" font-family='"Liberation Sans", sans-serif' >4</text>
</g>
<g transform="translate(248.4,478.2) rotate(-90)">
<text x="0" y="0" fill="#0000FF" stroke="#0000FF" stroke-width="0.2" font-size="9.81" font-family='"Liberation Sans", sans-serif' >3</text>
</g>
<g transform="translate(253.5,451) rotate(-90)">
<text x="0" y="0" fill="#0000FF" stroke="#0000FF" stroke-width="0.2" font-size="9.81" font-family='"Liberation Sans", sans-serif' >4</text>
</g>
<g transform="translate(253.5,468.7) rotate(-90)">
<text x="0" y="0" fill="#0000FF" stroke="#0000FF" stroke-width="0.2" font-size="9.81" font-family='"Liberation Sans", sans-serif' >3</text>
</g>
<text x="257.2" y="460.7" fill="#000080" stroke="#000080" stroke-width="0.2" font-size="9.23" font-family='"Liberation Sans", sans-serif' >CN2</text>
<text x="257.2" y="469.7" fill="#000080" stroke="#000080" stroke-width="0.2" font-size="9.23" font-family='"Liberation Sans", sans-serif' >XT60PW-M</text>
<circle cx="175" cy="432.5" r="2.5" fill="#CC0000"/>
<circle cx="175" cy="462.5" r="2.5" fill="#CC0000"/>
<circle cx="170" cy="482.5" r="2.5" fill="#CC0000"/>
<circle cx="175" cy="482.5" r="2.5" fill="#CC0000"/>
<rect x="480" y="277.5" width="200" height="140" fill="none" stroke="#000000" stroke-width="1"/>
<line x1="460" y1="287.5" x2="480" y2="287.5" stroke="#880000" stroke-width="1" />
<line x1="680" y1="287.5" x2="700" y2="287.5" stroke="#880000" stroke-width="1" />
<text x="474.2" y="286.5" fill="#0000FF" stroke="#0000FF" stroke-width="0.2" font-size="9.81" font-family='"Liberation Sans", sans-serif' text-anchor="end" >1</text>
<text x="685.5" y="286.5" fill="#0000FF" stroke="#0000FF" stroke-width="0.2" font-size="9.81" font-family='"Liberation Sans", sans-serif' >8</text>
<text x="482.2" y="290.6" fill="#0000FF" stroke="#0000FF" stroke-width="0.2" font-size="9.81" font-family='"Liberation Sans", sans-serif' textLength="61.07" lengthAdjust="spacingAndGlyphs"  word-spacing="0.8">GPIO2 A0 D0</text>
<text x="677.3" y="290.7" fill="#0000FF" stroke="#0000FF" stroke-width="0.2" font-size="9.81" font-family='"Liberation Sans", sans-serif' text-anchor="end" textLength="12.12" lengthAdjust="spacingAndGlyphs"  word-spacing="0.8">5V</text>
<line x1="456.2" y1="283.7" x2="463.8" y2="291.3" stroke="#33CC33" stroke-width="1.1" />
<line x1="456.2" y1="291.3" x2="463.8" y2="283.7" stroke="#33CC33" stroke-width="1.1" />
<line x1="696.2" y1="283.7" x2="703.8" y2="291.3" stroke="#33CC33" stroke-width="1.1" />
<line x1="696.2" y1="291.3" x2="703.8" y2="283.7" stroke="#33CC33" stroke-width="1.1" />
<line x1="460" y1="307.5" x2="480" y2="307.5" stroke="#880000" stroke-width="1" />
<line x1="680" y1="307.5" x2="700" y2="307.5" stroke="#880000" stroke-width="1" />
<text x="474.2" y="306.5" fill="#0000FF" stroke="#0000FF" stroke-width="0.2" font-size="9.81" font-family='"Liberation Sans", sans-serif' text-anchor="end" >2</text>
<text x="685.5" y="306.5" fill="#0000FF" stroke="#0000FF" stroke-width="0.2" font-size="9.81" font-family='"Liberation Sans", sans-serif' >9</text>
<text x="482.2" y="310.6" fill="#0000FF" stroke="#0000FF" stroke-width="0.2" font-size="9.81" font-family='"Liberation Sans", sans-serif' textLength="61.07" lengthAdjust="spacingAndGlyphs"  word-spacing="0.8">GPIO3 A1 D1</text>
<text x="677.3" y="310.7" fill="#0000FF" stroke="#0000FF" stroke-width="0.2" font-size="9.81" font-family='"Liberation Sans", sans-serif' text-anchor="end" textLength="21.06" lengthAdjust="spacingAndGlyphs"  word-spacing="0.8">GND</text>
<line x1="456.2" y1="303.7" x2="463.8" y2="311.3" stroke="#33CC33" stroke-width="1.1" />
<line x1="456.2" y1="311.3" x2="463.8" y2="303.7" stroke="#33CC33" stroke-width="1.1" />
<line x1="460" y1="327.5" x2="480" y2="327.5" stroke="#880000" stroke-width="1" />
<line x1="680" y1="327.5" x2="700" y2="327.5" stroke="#880000" stroke-width="1" />
<text x="474.2" y="326.5" fill="#0000FF" stroke="#0000FF" stroke-width="0.2" font-size="9.81" font-family='"Liberation Sans", sans-serif' text-anchor="end" >3</text>
<text x="685.5" y="326.5" fill="#0000FF" stroke="#0000FF" stroke-width="0.2" font-size="9.81" font-family='"Liberation Sans", sans-serif' textLength="11.68" lengthAdjust="spacingAndGlyphs"  word-spacing="0.8">10</text>
<text x="482.2" y="330.6" fill="#0000FF" stroke="#0000FF" stroke-width="0.2" font-size="9.81" font-family='"Liberation Sans", sans-serif' textLength="61.07" lengthAdjust="spacingAndGlyphs"  word-spacing="0.8">GPIO4 A2 D2</text>
<text x="677.3" y="330.7" fill="#0000FF" stroke="#0000FF" stroke-width="0.2" font-size="9.81" font-family='"Liberation Sans", sans-serif' text-anchor="end" textLength="17.96" lengthAdjust="spacingAndGlyphs"  word-spacing="0.8">3V3</text>
<line x1="456.2" y1="323.7" x2="463.8" y2="331.3" stroke="#33CC33" stroke-width="1.1" />
<line x1="456.2" y1="331.3" x2="463.8" y2="323.7" stroke="#33CC33" stroke-width="1.1" />
<line x1="460" y1="347.5" x2="480" y2="347.5" stroke="#880000" stroke-width="1" />
<line x1="680" y1="347.5" x2="700" y2="347.5" stroke="#880000" stroke-width="1" />
<text x="474.2" y="346.5" fill="#0000FF" stroke="#0000FF" stroke-width="0.2" font-size="9.81" font-family='"Liberation Sans", sans-serif' text-anchor="end" >4</text>
<text x="685.5" y="346.5" fill="#0000FF" stroke="#0000FF" stroke-width="0.2" font-size="9.81" font-family='"Liberation Sans", sans-serif' textLength="11.68" lengthAdjust="spacingAndGlyphs"  word-spacing="0.8">11</text>
<text x="482.2" y="350.6" fill="#0000FF" stroke="#0000FF" stroke-width="0.2" font-size="9.81" font-family='"Liberation Sans", sans-serif' textLength="61.07" lengthAdjust="spacingAndGlyphs"  word-spacing="0.8">GPIO5 A3 D3</text>
<text x="677.3" y="350.7" fill="#0000FF" stroke="#0000FF" stroke-width="0.2" font-size="9.81" font-family='"Liberation Sans", sans-serif' text-anchor="end" textLength="85.74" lengthAdjust="spacingAndGlyphs"  word-spacing="0.8">D10 MOSI GPIO10</text>
<line x1="456.2" y1="343.7" x2="463.8" y2="351.3" stroke="#33CC33" stroke-width="1.1" />
<line x1="456.2" y1="351.3" x2="463.8" y2="343.7" stroke="#33CC33" stroke-width="1.1" />
<line x1="696.2" y1="343.7" x2="703.8" y2="351.3" stroke="#33CC33" stroke-width="1.1" />
<line x1="696.2" y1="351.3" x2="703.8" y2="343.7" stroke="#33CC33" stroke-width="1.1" />
<line x1="460" y1="367.5" x2="480" y2="367.5" stroke="#880000" stroke-width="1" />
<line x1="680" y1="367.5" x2="700" y2="367.5" stroke="#880000" stroke-width="1" />
<text x="474.2" y="366.5" fill="#0000FF" stroke="#0000FF" stroke-width="0.2" font-size="9.81" font-family='"Liberation Sans", sans-serif' text-anchor="end" >5</text>
<text x="685.5" y="366.5" fill="#0000FF" stroke="#0000FF" stroke-width="0.2" font-size="9.81" font-family='"Liberation Sans", sans-serif' textLength="11.68" lengthAdjust="spacingAndGlyphs"  word-spacing="0.8">12</text>
<text x="482.2" y="370.6" fill="#0000FF" stroke="#0000FF" stroke-width="0.2" font-size="9.81" font-family='"Liberation Sans", sans-serif' textLength="68.59" lengthAdjust="spacingAndGlyphs"  word-spacing="0.8">GPIO6 SDA D4</text>
<text x="677.3" y="370.7" fill="#0000FF" stroke="#0000FF" stroke-width="0.2" font-size="9.81" font-family='"Liberation Sans", sans-serif' text-anchor="end" textLength="74.06" lengthAdjust="spacingAndGlyphs"  word-spacing="0.8">D9 MISO GPIO9</text>
<line x1="696.2" y1="363.7" x2="703.8" y2="371.3" stroke="#33CC33" stroke-width="1.1" />
<line x1="696.2" y1="371.3" x2="703.8" y2="363.7" stroke="#33CC33" stroke-width="1.1" />
<line x1="460" y1="387.5" x2="480" y2="387.5" stroke="#880000" stroke-width="1" />
<line x1="680" y1="387.5" x2="700" y2="387.5" stroke="#880000" stroke-width="1" />
<text x="474.2" y="386.5" fill="#0000FF" stroke="#0000FF" stroke-width="0.2" font-size="9.81" font-family='"Liberation Sans", sans-serif' text-anchor="end" >6</text>
<text x="685.5" y="386.5" fill="#0000FF" stroke="#0000FF" stroke-width="0.2" font-size="9.81" font-family='"Liberation Sans", sans-serif' textLength="11.68" lengthAdjust="spacingAndGlyphs"  word-spacing="0.8">13</text>
<text x="482.2" y="390.6" fill="#0000FF" stroke="#0000FF" stroke-width="0.2" font-size="9.81" font-family='"Liberation Sans", sans-serif' textLength="66.76" lengthAdjust="spacingAndGlyphs"  word-spacing="0.8">GPIO7 SCL D5</text>
<text x="677.3" y="390.7" fill="#0000FF" stroke="#0000FF" stroke-width="0.2" font-size="9.81" font-family='"Liberation Sans", sans-serif' text-anchor="end" textLength="68.01" lengthAdjust="spacingAndGlyphs"  word-spacing="0.8">D8 SCK GPIO8</text>
<line x1="696.2" y1="383.7" x2="703.8" y2="391.3" stroke="#33CC33" stroke-width="1.1" />
<line x1="696.2" y1="391.3" x2="703.8" y2="383.7" stroke="#33CC33" stroke-width="1.1" />
<line x1="460" y1="407.5" x2="480" y2="407.5" stroke="#880000" stroke-width="1" />
<line x1="680" y1="407.5" x2="700" y2="407.5" stroke="#880000" stroke-width="1" />
<text x="474.2" y="406.5" fill="#0000FF" stroke="#0000FF" stroke-width="0.2" font-size="9.81" font-family='"Liberation Sans", sans-serif' text-anchor="end" >7</text>
<text x="685.5" y="406.5" fill="#0000FF" stroke="#0000FF" stroke-width="0.2" font-size="9.81" font-family='"Liberation Sans", sans-serif' textLength="11.68" lengthAdjust="spacingAndGlyphs"  word-spacing="0.8">14</text>
<text x="482.2" y="410.6" fill="#0000FF" stroke="#0000FF" stroke-width="0.2" font-size="9.81" font-family='"Liberation Sans", sans-serif' textLength="66.74" lengthAdjust="spacingAndGlyphs"  word-spacing="0.8">GPIO21 TX D6</text>
<text x="677.3" y="410.7" fill="#0000FF" stroke="#0000FF" stroke-width="0.2" font-size="9.81" font-family='"Liberation Sans", sans-serif' text-anchor="end" textLength="67.46" lengthAdjust="spacingAndGlyphs"  word-spacing="0.8">D7 RX GPIO20</text>
<line x1="456.2" y1="403.7" x2="463.8" y2="411.3" stroke="#33CC33" stroke-width="1.1" />
<line x1="456.2" y1="411.3" x2="463.8" y2="403.7" stroke="#33CC33" stroke-width="1.1" />
<line x1="696.2" y1="403.7" x2="703.8" y2="411.3" stroke="#33CC33" stroke-width="1.1" />
<line x1="696.2" y1="411.3" x2="703.8" y2="403.7" stroke="#33CC33" stroke-width="1.1" />
<polyline points="435,367.5 460,367.5" fill="none" stroke="#008800" stroke-width="1" stroke-linejoin="miter"/>
<polyline points="435,387.5 460,387.5" fill="none" stroke="#008800" stroke-width="1" stroke-linejoin="miter"/>
<polygon points="415,362.5 430,362.5 435,367.5 430,372.5 415,372.5" fill="none" stroke="#0000FF" stroke-width="1" />
<text x="413" y="370.7" fill="#0000FF" stroke="#0000FF" stroke-width="0.12" font-size="11.31" font-family='"Liberation Serif", serif' text-anchor="end" textLength="21.35" lengthAdjust="spacingAndGlyphs" >SDA</text>
<polygon points="415,382.5 430,382.5 435,387.5 430,392.5 415,392.5" fill="none" stroke="#0000FF" stroke-width="1" />
<text x="413" y="390.7" fill="#0000FF" stroke="#0000FF" stroke-width="0.12" font-size="11.31" font-family='"Liberation Serif", serif' text-anchor="end" textLength="19.57" lengthAdjust="spacingAndGlyphs" >SCL</text>
<polyline points="700,307.5 780,307.5" fill="none" stroke="#008800" stroke-width="1" stroke-linejoin="miter"/>
<line x1="780" y1="307.5" x2="780" y2="317.5" stroke="#000000" stroke-width="1" />
<line x1="770" y1="317.5" x2="790" y2="317.5" stroke="#000000" stroke-width="1" />
<line x1="773" y1="319.5" x2="787" y2="319.5" stroke="#000000" stroke-width="1" />
<line x1="776" y1="321.5" x2="784" y2="321.5" stroke="#000000" stroke-width="1" />
<line x1="778.5" y1="323.5" x2="781.5" y2="323.5" stroke="#000000" stroke-width="1" />
<text x="780" y="333.8" fill="#000000" stroke="#000000" stroke-width="0.15" font-size="13" font-family='"Liberation Serif", serif' text-anchor="middle" textLength="26.00" lengthAdjust="spacingAndGlyphs" >GND</text>
<polyline points="700,327.5 715,327.5" fill="none" stroke="#008800" stroke-width="1" stroke-linejoin="miter"/>
<polygon points="735,322.5 720,322.5 715,327.5 720,332.5 735,332.5" fill="none" stroke="#0000FF" stroke-width="1" />
<text x="737" y="330.7" fill="#0000FF" stroke="#0000FF" stroke-width="0.12" font-size="11.31" font-family='"Liberation Serif", serif' textLength="18.38" lengthAdjust="spacingAndGlyphs" >3V3</text>
<text x="574.3" y="264.6" fill="#000080" stroke="#000080" stroke-width="0.2" font-size="9.23" font-family='"Liberation Sans", sans-serif' >U1</text>
<text x="574.3" y="273.7" fill="#000080" stroke="#000080" stroke-width="0.2" font-size="9" font-family='"Liberation Sans", sans-serif' textLength="65.00" lengthAdjust="spacingAndGlyphs" >XIAO ESP32C3</text>
<rect x="362" y="482.5" width="444" height="80" fill="#fff" stroke="#880000" stroke-width="1"/>
<line x1="362" y1="521.5" x2="806" y2="521.5" stroke="#880000" stroke-width="1" />
<line x1="466.5" y1="541.5" x2="806" y2="541.5" stroke="#880000" stroke-width="1" />
<line x1="466.5" y1="521.5" x2="466.5" y2="562.5" stroke="#880000" stroke-width="1" />
<line x1="726.5" y1="482.5" x2="726.5" y2="541.5" stroke="#880000" stroke-width="1" />
<g opacity="0.55"><text x="622" y="561" font-size="58" font-weight="bold" font-style="italic" font-family='"Liberation Sans", sans-serif' fill="#ffffff" fill-opacity="0.25" stroke="#e8e8e8" stroke-width="1" textLength="192" lengthAdjust="spacingAndGlyphs">PCBWay</text><path d="M612,572 C660,556 740,552 800,560" fill="none" stroke="#e9e9e9" stroke-width="1.2"/></g>
<text x="367.6" y="495.5" fill="#880000" stroke="#880000" stroke-width="0.05" font-size="10" font-family='"Liberation Sans", sans-serif' textLength="34.11" lengthAdjust="spacingAndGlyphs"  word-spacing="0.8">TITLE:</text>
<text x="424.8" y="507.7" fill="#0000FF" stroke="#0000FF" stroke-width="0.05" font-size="13.33" font-family='"Liberation Sans", sans-serif' textLength="93.67" lengthAdjust="spacingAndGlyphs"  word-spacing="0.8">Tiny ammeter</text>
<text x="472" y="535.4" fill="#880000" stroke="#880000" stroke-width="0.05" font-size="10" font-family='"Liberation Sans", sans-serif' textLength="53.62" lengthAdjust="spacingAndGlyphs"  word-spacing="0.8">Company:</text>
<text x="538.7" y="535.4" fill="#0000FF" stroke="#0000FF" stroke-width="0.05" font-size="12" font-family='"Liberation Sans", sans-serif' textLength="86.63" lengthAdjust="spacingAndGlyphs"  word-spacing="0.8">GOKUXMAKER</text>
<text x="472" y="557.5" fill="#880000" stroke="#880000" stroke-width="0.05" font-size="10" font-family='"Liberation Sans", sans-serif' textLength="29.15" lengthAdjust="spacingAndGlyphs"  word-spacing="0.8">Date:</text>
<text x="519.2" y="557.6" fill="#0000FF" stroke="#0000FF" stroke-width="0.05" font-size="12" font-family='"Liberation Sans", sans-serif' textLength="71.95" lengthAdjust="spacingAndGlyphs"  word-spacing="0.8">2025-08-24</text>
<text x="610.6" y="557.5" fill="#880000" stroke="#880000" stroke-width="0.05" font-size="10" font-family='"Liberation Sans", sans-serif' textLength="55.21" lengthAdjust="spacingAndGlyphs"  word-spacing="0.8">Drawn By:</text>
<text x="676.3" y="557.5" fill="#0000FF" stroke="#0000FF" stroke-width="0.05" font-size="12" font-family='"Liberation Sans", sans-serif' textLength="34.57" lengthAdjust="spacingAndGlyphs"  word-spacing="0.8">Gokul</text>
<text x="731.8" y="508.6" fill="#880000" stroke="#880000" stroke-width="0.05" font-size="10" font-family='"Liberation Sans", sans-serif' textLength="25.51" lengthAdjust="spacingAndGlyphs"  word-spacing="0.8">REV:</text>
<text x="770" y="508.6" fill="#0000FF" stroke="#0000FF" stroke-width="0.05" font-size="12" font-family='"Liberation Sans", sans-serif' textLength="19.63" lengthAdjust="spacingAndGlyphs"  word-spacing="0.8">2.0</text>
<text x="731" y="537.8" fill="#880000" stroke="#880000" stroke-width="0.05" font-size="10" font-family='"Liberation Sans", sans-serif' textLength="34.74" lengthAdjust="spacingAndGlyphs"  word-spacing="0.8">Sheet:</text>
<text x="776.3" y="537.8" fill="#0000FF" stroke="#0000FF" stroke-width="0.05" font-size="12" font-family='"Liberation Sans", sans-serif' textLength="20.71" lengthAdjust="spacingAndGlyphs"  word-spacing="0.8">1/1</text>
<g fill="none" stroke="#5588FF" stroke-width="2.1" stroke-linecap="round" stroke-linejoin="round"><path d="M371.7,546.8 A4.6,4.6 0 1 1 374,538.2 A5.9,5.9 0 0 1 385.6,538.4 A4.2,4.2 0 1 1 383.7,546.4"/><circle cx="374.2" cy="546.9" r="2"/><path d="M376.2,545.8 L382.8,542.4"/></g>
<text x="394.4" y="547.9" fill="#5588FF" stroke="#5588FF" stroke-width="0" font-size="16.4" font-family='"Liberation Sans", sans-serif' textLength="67.80" lengthAdjust="spacingAndGlyphs" font-weight="bold" font-style="italic" >EasyEDA</text>
</svg>
</body></html>
